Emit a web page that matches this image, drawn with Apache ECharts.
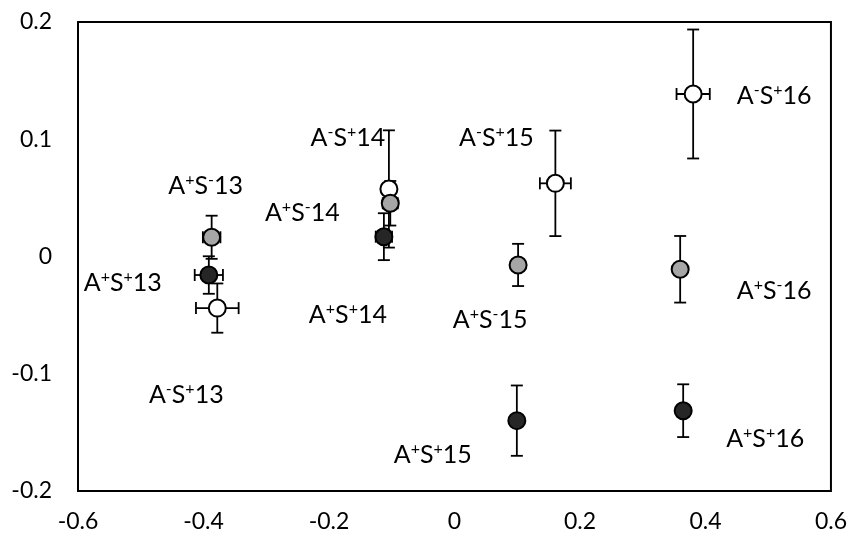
<!DOCTYPE html>
<html>
<head>
<meta charset="utf-8">
<script src="https://cdn.jsdelivr.net/npm/echarts@6/dist/echarts.min.js"></script>
<style>html,body{margin:0;padding:0;background:#fff;}#chart{width:850px;height:537px;}</style>
</head>
<body>
<div id="chart"></div>
<script>
// ---- Data ----
const groups = ['13', '14', '15', '16'];

// A+S+ (dark)
const apspX    = [-0.3915, -0.1125, 0.0994, 0.3645];
const apspY    = [-0.0158, 0.0169, -0.140, -0.1315];
const apspXErr = [0.0225, 0.013, 0, 0];
const apspYErr = [0.016, 0.020, 0.030, 0.0225];

// A+S- (gray)
const apsmX    = [-0.387, -0.1023, 0.1014, 0.3597];
const apsmY    = [0.0164, 0.0454, -0.0072, -0.0109];
const apsmXErr = [0.014, 0.012, 0, 0];
const apsmYErr = [0.0184, 0.019, 0.018, 0.0284];

// A-S+ (white)
const amspX    = [-0.378, -0.1045, 0.1608, 0.3804];
const amspY    = [-0.044, 0.0576, 0.0624, 0.1386];
const amspXErr = [0.034, 0.010, 0.0247, 0.0265];
const amspYErr = [0.021, 0.050, 0.045, 0.055];

const xTicks = [-0.6, -0.4, -0.2, 0, 0.2, 0.4, 0.6];
const yTicks = [-0.2, -0.1, 0, 0.1, 0.2];

// ---- Styling (label offsets in pixels, per point) ----
const labelOffsets = {
  apsp: [[-86, 8], [-36, 78], [-84, 34], [82, 28]],
  apsm: [[-6, -51], [-88, 10], [-28, 55], [94, 22]],
  amsp: [[-31, 87], [-41, -51], [-59, -45], [81, 2]]
};

const FONT = 'Lato';
const rich = {
  n: { fontSize: 25, fontFamily: FONT, color: '#000', lineHeight: 28 },
  s: { fontSize: 16, fontFamily: FONT, color: '#000', verticalAlign: 'top', lineHeight: 14 }
};

function labelText(a, s, g) {
  return '{n|A}{s|' + a + '}{n|S}{s|' + s + '}{n|' + g + '}';
}

function buildSeries(name, xs, ys, xe, ye, fill, aSign, sSign, offsets) {
  const errData = xs.map((x, i) => [x, ys[i], xe[i], ye[i]]);
  const ptData = xs.map((x, i) => ({
    value: [x, ys[i]],
    label: {
      show: true,
      position: 'inside',
      offset: offsets[i],
      formatter: labelText(aSign, sSign, groups[i]),
      rich: rich
    }
  }));
  return [
    {
      name: name + '-err',
      type: 'custom',
      z: 2,
      data: errData,
      renderItem: function (params, api) {
        const x = api.value(0), y = api.value(1), xer = api.value(2), yer = api.value(3);
        const cap = 6;
        const children = [];
        const st = { stroke: '#000', lineWidth: 1.8 };
        if (yer > 0) {
          const t = api.coord([x, y + yer]);
          const b = api.coord([x, y - yer]);
          children.push({ type: 'line', shape: { x1: t[0], y1: t[1], x2: b[0], y2: b[1] }, style: st });
          children.push({ type: 'line', shape: { x1: t[0] - cap, y1: t[1], x2: t[0] + cap, y2: t[1] }, style: st });
          children.push({ type: 'line', shape: { x1: b[0] - cap, y1: b[1], x2: b[0] + cap, y2: b[1] }, style: st });
        }
        if (xer > 0) {
          const l = api.coord([x - xer, y]);
          const r = api.coord([x + xer, y]);
          children.push({ type: 'line', shape: { x1: l[0], y1: l[1], x2: r[0], y2: r[1] }, style: st });
          children.push({ type: 'line', shape: { x1: l[0], y1: l[1] - cap, x2: l[0], y2: l[1] + cap }, style: st });
          children.push({ type: 'line', shape: { x1: r[0], y1: r[1] - cap, x2: r[0], y2: r[1] + cap }, style: st });
        }
        return { type: 'group', children: children };
      }
    },
    {
      name: name,
      type: 'scatter',
      z: 3,
      symbol: 'circle',
      symbolSize: 17,
      itemStyle: { color: fill, borderColor: '#000', borderWidth: 2, opacity: 1 },
      emphasis: { disabled: true },
      data: ptData
    }
  ];
}

const chart = echarts.init(document.getElementById('chart'), null, { renderer: 'canvas' });

const axisLabelStyle = { fontFamily: FONT, fontSize: 23, color: '#000' };

chart.setOption({
  animation: false,
  backgroundColor: '#fff',
  grid: {
    left: 78, right: 18, top: 22, bottom: 46,
    show: true, borderColor: '#000', borderWidth: 2
  },
  xAxis: {
    type: 'value',
    min: xTicks[0], max: xTicks[xTicks.length - 1], interval: 0.2,
    axisLine: { show: false },
    axisTick: { show: false },
    splitLine: { show: false },
    axisLabel: Object.assign({ margin: 19, formatter: v => String(Math.round(v * 10) / 10) }, axisLabelStyle)
  },
  yAxis: {
    type: 'value',
    min: yTicks[0], max: yTicks[yTicks.length - 1], interval: 0.1,
    axisLine: { show: false },
    axisTick: { show: false },
    splitLine: { show: false },
    axisLabel: Object.assign({ margin: 26, formatter: v => String(Math.round(v * 10) / 10) }, axisLabelStyle)
  },
  series: [].concat(
    buildSeries('A-S+', amspX, amspY, amspXErr, amspYErr, '#ffffff', '-', '+', labelOffsets.amsp),
    buildSeries('A+S-', apsmX, apsmY, apsmXErr, apsmYErr, '#a6a6a6', '+', '-', labelOffsets.apsm),
    buildSeries('A+S+', apspX, apspY, apspXErr, apspYErr, '#262626', '+', '+', labelOffsets.apsp)
  )
});
</script>
</body>
</html>
